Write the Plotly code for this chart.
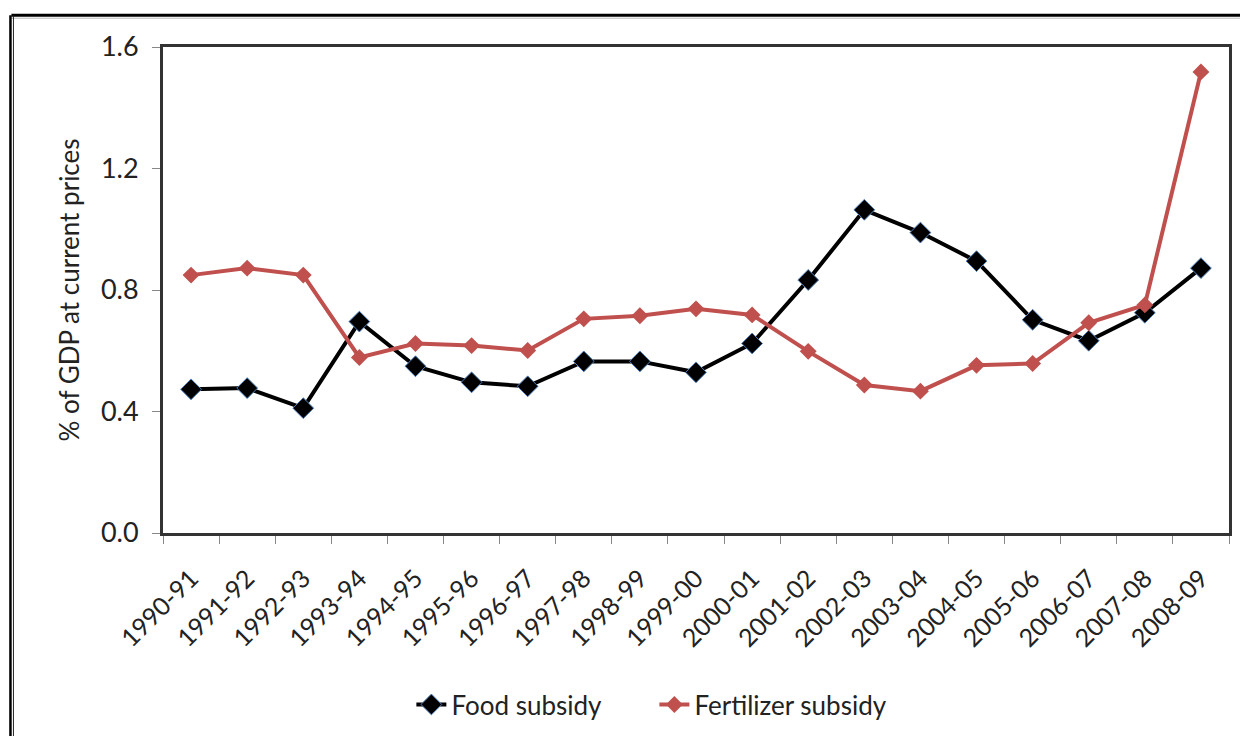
import plotly.graph_objects as go

years = ["1990-91", "1991-92", "1992-93", "1993-94", "1994-95", "1995-96", "1996-97",
         "1997-98", "1998-99", "1999-00", "2000-01", "2001-02", "2002-03", "2003-04",
         "2004-05", "2005-06", "2006-07", "2007-08", "2008-09"]
food = [0.473, 0.477, 0.411, 0.696, 0.549, 0.496, 0.483, 0.565, 0.565, 0.529, 0.624,
        0.833, 1.064, 0.989, 0.895, 0.702, 0.633, 0.725, 0.872]
fert = [0.849, 0.872, 0.849, 0.578, 0.624, 0.617, 0.601, 0.705, 0.715, 0.738, 0.718,
        0.598, 0.487, 0.467, 0.552, 0.558, 0.692, 0.751, 1.518]
y_ticks = [0.0, 0.4, 0.8, 1.2, 1.6]

FONT = "Lato, 'Open Sans', sans-serif"

fig = go.Figure()
fig.add_trace(go.Scatter(x=years, y=food, name="Food subsidy", mode="lines+markers",
                         line=dict(color="black", width=4),
                         marker=dict(symbol="diamond", size=16, color="black",
                                     line=dict(color="#4F81BD", width=1))))
fig.add_trace(go.Scatter(x=years, y=fert, name="Fertilizer subsidy", mode="lines+markers",
                         line=dict(color="#C0504D", width=4),
                         marker=dict(symbol="diamond", size=13, color="#C0504D")))

fig.update_layout(
    width=1232, height=728,
    margin=dict(l=155, r=8, t=39, b=199),
    paper_bgcolor="white", plot_bgcolor="white",
    font=dict(family=FONT, color="#222", size=24),
    showlegend=True,
    legend=dict(orientation="h", x=0.233, xanchor="left", y=-0.353, yanchor="middle",
                font=dict(size=26, family=FONT), traceorder="normal",
                entrywidth=198, entrywidthmode="pixels"),
    xaxis=dict(type="category", range=[-0.5, 18.5], tickangle=-45, tickson="boundaries",
               ticks="outside", ticklen=8, tickcolor="#888", tickfont=dict(size=25),
               ticklabelstandoff=18,
               showline=True, linecolor="#333", linewidth=3, mirror=True, showgrid=False),
    yaxis=dict(range=[0, 1.6], tickvals=y_ticks, ticktext=[f"{v:.1f}" for v in y_ticks],
               ticks="outside", ticklen=8, tickcolor="#888", tickfont=dict(size=27),
               ticklabelstandoff=8,
               showline=True, linecolor="#333", linewidth=3, mirror=True, showgrid=False,
               zeroline=False,
               title=dict(text="% of GDP at current prices", font=dict(size=26), standoff=14)),
)

# outer frame (top and double left line)
fig.add_shape(type="line", xref="paper", yref="paper", x0=-0.1422, x1=1.1, y0=1.0653, y1=1.0653,
              line=dict(color="black", width=3))
fig.add_shape(type="line", xref="paper", yref="paper", x0=-0.1422, x1=1.1, y0=1.0592, y1=1.0592,
              line=dict(color="#bbb", width=1))
fig.add_shape(type="line", xref="paper", yref="paper", x0=-0.1431, x1=-0.1431, y0=1.0653, y1=-0.5,
              line=dict(color="black", width=2.5))
fig.add_shape(type="line", xref="paper", yref="paper", x0=-0.1403, x1=-0.1403, y0=1.0653, y1=-0.5,
              line=dict(color="#222", width=1))

fig.write_html("out.html")
